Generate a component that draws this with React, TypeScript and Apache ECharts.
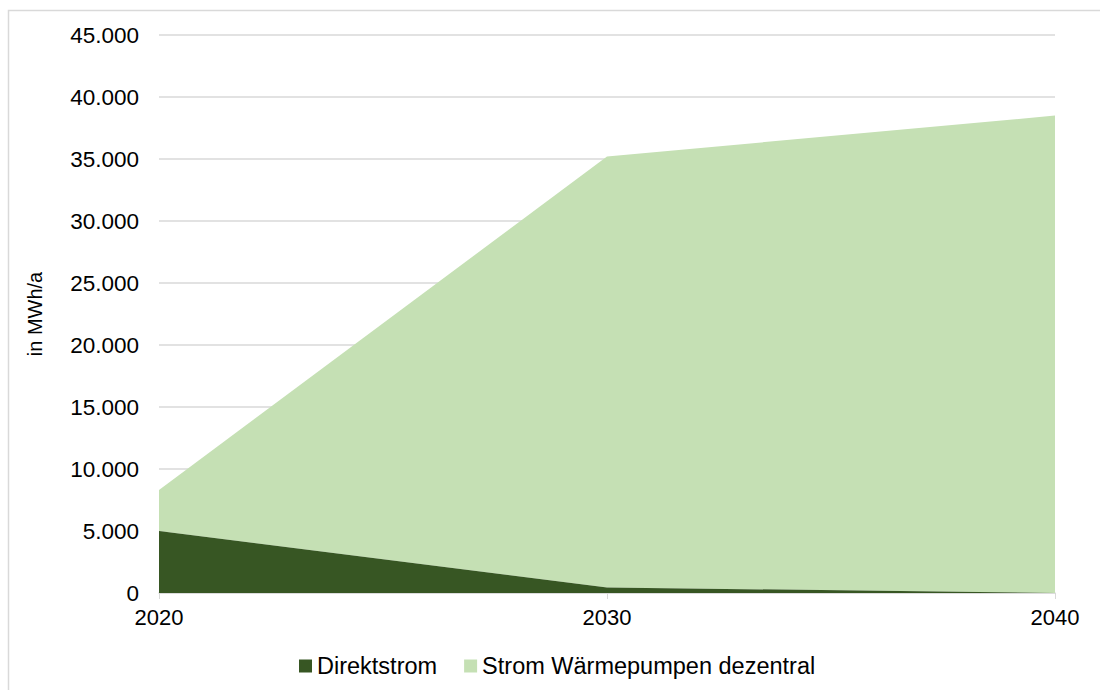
import React, { useEffect, useRef } from "react";
import * as echarts from "echarts";

const categories = ["2020", "2030", "2040"];
const direktstrom = [5000, 450, 0];
const waermepumpen = [3300, 34750, 38500];
const yTicks = { min: 0, max: 45000, interval: 5000 };

const fmt = (v: number) => {
  const s = String(Math.round(v));
  return s.replace(/\B(?=(\d{3})+(?!\d))/g, ".");
};

export default function App() {
  const ref = useRef<HTMLDivElement>(null);
  useEffect(() => {
    if (!ref.current) return;
    const chart = echarts.init(ref.current, null, { renderer: "svg" });
    const font = "Liberation Sans, Arial, sans-serif";
    chart.setOption({
      animation: false,
      backgroundColor: "#ffffff",
      textStyle: { fontFamily: font },
      graphic: [
        {
          type: "rect",
          shape: { x: 8.5, y: 10.5, width: 1200, height: 800 },
          style: { fill: "none", stroke: "#d9d9d9", lineWidth: 1.5 },
          silent: true,
          z: -10,
        },
      ],
      grid: { left: 159, right: 45, top: 35, bottom: 97, containLabel: false },
      legend: {
        top: 649,
        left: 294,
        itemWidth: 13,
        itemHeight: 13,
        itemGap: 27,
        icon: "rect",
        textStyle: { fontSize: 23.5, color: "#000", fontFamily: font },
        data: ["Direktstrom", "Strom Wärmepumpen dezentral"],
      },
      xAxis: {
        type: "category",
        data: categories,
        boundaryGap: false,
        axisLine: { lineStyle: { color: "#d9d9d9", width: 1.5 } },
        axisTick: { show: true, alignWithLabel: true, length: 6, lineStyle: { color: "#d9d9d9" } },
        axisLabel: { fontSize: 22, color: "#000", margin: 13, fontFamily: font },
      },
      yAxis: {
        type: "value",
        min: yTicks.min,
        max: yTicks.max,
        interval: yTicks.interval,
        name: "in MWh/a",
        nameLocation: "middle",
        nameGap: 114,
        nameTextStyle: { fontSize: 20, color: "#000", fontFamily: font },
        axisLine: { show: false },
        axisTick: { show: false },
        splitLine: { lineStyle: { color: "#d9d9d9", width: 1.5 } },
        axisLabel: { fontSize: 22.5, color: "#000", margin: 20, formatter: fmt, fontFamily: font },
      },
      series: [
        {
          name: "Direktstrom",
          type: "line",
          stack: "total",
          data: direktstrom,
          symbol: "none",
          lineStyle: { width: 0 },
          itemStyle: { color: "#375623" },
          areaStyle: { color: "#375623", opacity: 1 },
          z: 3,
        },
        {
          name: "Strom Wärmepumpen dezentral",
          type: "line",
          stack: "total",
          data: waermepumpen,
          symbol: "none",
          lineStyle: { width: 0 },
          itemStyle: { color: "#c5e0b4" },
          areaStyle: { color: "#c5e0b4", opacity: 1 },
          z: 2,
        },
      ],
    });
    return () => chart.dispose();
  }, []);
  return (
    <div
      ref={ref}
      style={{ position: "absolute", left: 0, top: 0, width: 1100, height: 690 }}
    />
  );
}
